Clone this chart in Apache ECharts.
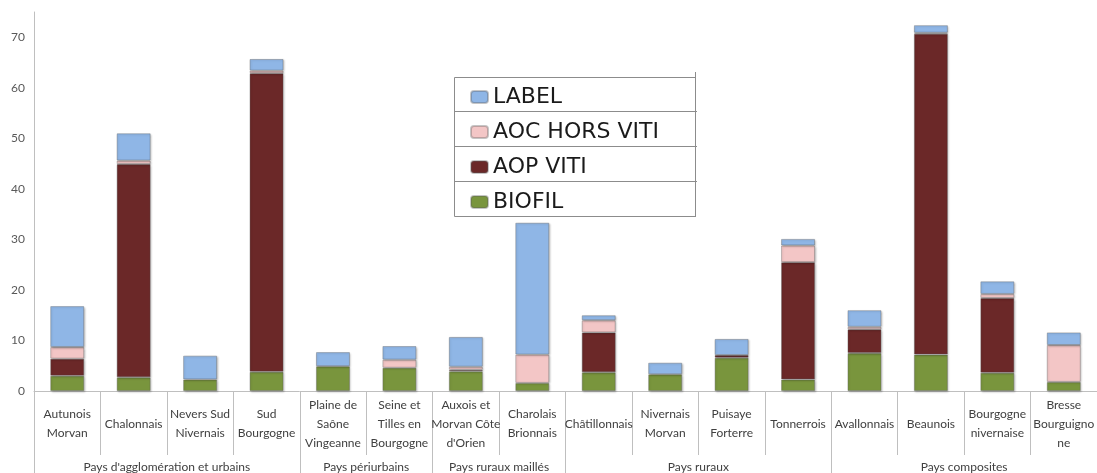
<!DOCTYPE html>
<html>
<head>
<meta charset="utf-8">
<title>Signes de qualité par pays</title>
<script src="https://cdn.jsdelivr.net/npm/echarts@6/dist/echarts.min.js"></script>
<style>
  html, body { margin: 0; padding: 0; background: #ffffff; }
  #chart { width: 1097px; height: 473px; }
</style>
</head>
<body>
<div id="chart"></div>
<script>
// Territories (first axis level)
const categories = [
  'Autunois\nMorvan', 'Chalonnais', 'Nevers Sud\nNivernais', 'Sud\nBourgogne',
  'Plaine de\nSaône\nVingeanne', 'Seine et\nTilles en\nBourgogne',
  'Auxois et\nMorvan Côte\nd\'Orien', 'Charolais\nBrionnais',
  'Châtillonnais', 'Nivernais\nMorvan', 'Puisaye\nForterre', 'Tonnerrois',
  'Avallonnais', 'Beaunois', 'Bourgogne\nnivernaise', 'Bresse\nBourguigno\nne'
];

// Territory groups (second axis level) and how many territories each holds
const groupNames = [
  'Pays d\'agglomération et urbains', 'Pays périurbains',
  'Pays ruraux maillés', 'Pays ruraux', 'Pays composites'
];
const groupSizes = [4, 2, 2, 4, 4];

// Stacked values per label type
const biofil    = [3.0, 2.7, 2.3, 3.8, 4.9, 4.6, 3.9, 1.6, 3.7, 3.3, 6.6, 2.3, 7.5, 7.2, 3.6, 1.8];
const aopViti   = [3.4, 42.2, 0, 59.1, 0, 0, 0.3, 0, 7.9, 0, 0.5, 23.2, 4.7, 63.5, 14.8, 0];
const aocHors   = [2.3, 0.7, 0, 0.5, 0, 1.6, 0.6, 5.6, 2.4, 0, 0, 3.3, 0.5, 0.2, 0.8, 7.3];
const labelVals = [8.1, 5.4, 4.7, 2.3, 2.8, 2.7, 5.9, 26.1, 1.0, 2.3, 3.2, 1.3, 3.3, 1.5, 2.5, 2.5];

// Y axis ticks
const yMin = 0, yMax = 75, yStep = 10;

const seriesDefs = [
  { name: 'BIOFIL',        data: biofil,    color: '#79953D' },
  { name: 'AOP VITI',      data: aopViti,   color: '#6B2828' },
  { name: 'AOC HORS VITI', data: aocHors,   color: '#F3C6C6' },
  { name: 'LABEL',         data: labelVals, color: '#8FB6E6' }
];

// Second-level axis: one slot per category boundary, group names at group centres
const groupAxisData = new Array(categories.length + 1).fill('');
const groupBoundaries = [0];
let start = 0;
groupSizes.forEach((size, i) => {
  groupAxisData[start + size / 2] = groupNames[i];
  start += size;
  groupBoundaries.push(start);
});

const axisGray = '#BFBFBF';
const textGray = '#404040';

const chart = echarts.init(document.getElementById('chart'));
chart.setOption({
  animation: false,
  backgroundColor: '#ffffff',
  grid: { left: 34, top: 12, width: 1074, height: 379.5, containLabel: false },
  legend: {
    data: ['LABEL', 'AOC HORS VITI', 'AOP VITI', 'BIOFIL'],
    orient: 'vertical',
    left: 465,
    top: 80,
    itemWidth: 17,
    itemHeight: 12,
    itemGap: 11,
    itemTextGap: 9,
    selectedMode: false,
    z: 5,
    textStyle: {
      fontFamily: 'DejaVu Sans',
      fontSize: 22,
      lineHeight: 24,
      color: '#1a1a1a'
    }
  },
  graphic: [
    {
      type: 'group',
      z: 4,
      children: [
        { type: 'rect', shape: { x: 454.5, y: 77.5, width: 241, height: 139 },
          style: { fill: '#ffffff', stroke: '#8c8c8c', lineWidth: 1 } },
        { type: 'line', shape: { x1: 695.5, y1: 72, x2: 695.5, y2: 217 },
          style: { stroke: '#8c8c8c', lineWidth: 1 } },
        { type: 'line', shape: { x1: 454.5, y1: 111.5, x2: 697, y2: 111.5 },
          style: { stroke: '#8c8c8c', lineWidth: 1 } },
        { type: 'line', shape: { x1: 454.5, y1: 146.5, x2: 697, y2: 146.5 },
          style: { stroke: '#8c8c8c', lineWidth: 1 } },
        { type: 'line', shape: { x1: 454.5, y1: 181.5, x2: 697, y2: 181.5 },
          style: { stroke: '#8c8c8c', lineWidth: 1 } }
      ]
    }
  ],
  xAxis: [
    {
      type: 'category',
      data: categories,
      position: 'bottom',
      axisLine: { lineStyle: { color: axisGray } },
      axisTick: { show: true, interval: 0, length: 64, lineStyle: { color: axisGray } },
      axisLabel: {
        interval: 0,
        margin: 33,
        verticalAlign: 'middle',
        lineHeight: 19,
        fontFamily: 'Lato',
        fontSize: 12,
        color: textGray
      }
    },
    {
      type: 'category',
      data: groupAxisData,
      position: 'bottom',
      offset: 0,
      boundaryGap: false,
      axisLine: { show: false },
      axisTick: {
        show: true,
        length: 82,
        interval: (idx) => groupBoundaries.includes(idx),
        lineStyle: { color: axisGray }
      },
      axisLabel: {
        interval: (idx, val) => val !== '',
        margin: 76,
        verticalAlign: 'middle',
        fontFamily: 'Lato',
        fontSize: 12,
        color: textGray
      }
    }
  ],
  yAxis: {
    type: 'value',
    min: yMin,
    max: yMax,
    interval: yStep,
    axisLine: { show: true, lineStyle: { color: axisGray } },
    axisTick: { show: false },
    splitLine: { show: false },
    axisLabel: {
      margin: 9,
      fontFamily: 'Lato',
      fontSize: 12,
      color: '#595959',
      formatter: (v) => (v % yStep === 0 ? String(v) : '')
    }
  },
  series: seriesDefs.map((s) => ({
    name: s.name,
    type: 'bar',
    stack: 'total',
    xAxisIndex: 0,
    barWidth: 34,
    data: s.data.map((v) => (v === 0 ? '-' : v)),
    itemStyle: {
      color: s.color,
      borderColor: 'rgba(90,90,90,0.35)',
      borderWidth: 1,
      shadowColor: 'rgba(0,0,0,0.25)',
      shadowBlur: 2,
      shadowOffsetX: 1,
      shadowOffsetY: 1
    }
  }))
});
</script>
</body>
</html>
